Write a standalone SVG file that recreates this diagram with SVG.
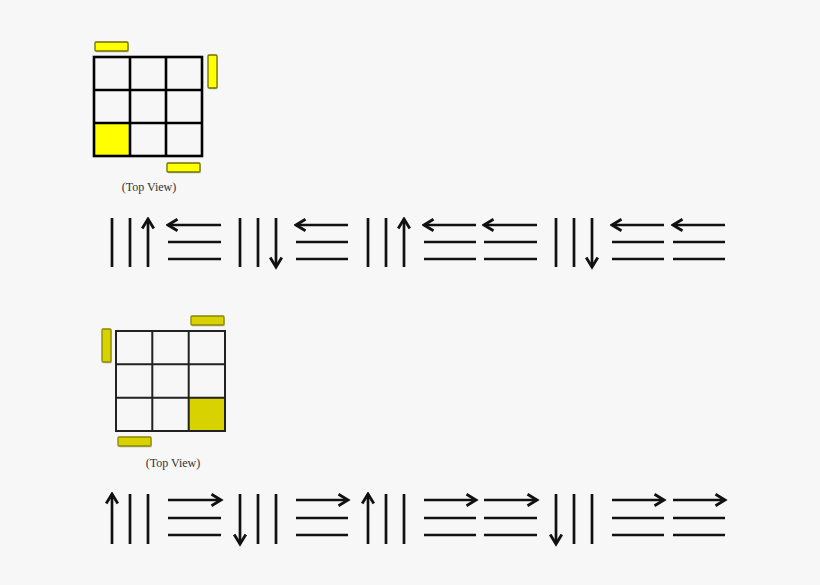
<svg xmlns="http://www.w3.org/2000/svg" width="820" height="585" viewBox="0 0 820 585">
<defs>
<style>
.ln{stroke:#111;stroke-width:2.7;fill:none;stroke-linecap:butt}
.ar{stroke:#111;stroke-width:2.7;fill:none;marker-end:url(#ah)}
.g1{stroke:#000;stroke-width:2.6;fill:none}
.g2{stroke:#222;stroke-width:2;fill:none}
.by{fill:#ffff00;stroke:#6f6f00;stroke-width:1.3}
.bd{fill:#d8d300;stroke:#8a8600;stroke-width:1.3}
.sh{fill:#b8b8b8;opacity:0.6}
.lbl{font-family:"Liberation Serif","DejaVu Serif",serif;font-size:12px;fill:#333;text-anchor:middle}
</style>
<marker id="ah" markerUnits="userSpaceOnUse" viewBox="0 0 14 14" refX="11.5" refY="7" markerWidth="14" markerHeight="14" orient="auto">
<path d="M2,1.2 L11.5,7 L2,12.8" fill="none" stroke="#111" stroke-width="2.8"/>
</marker>
</defs>
<rect width="820" height="585" fill="#f7f7f7"/>

<g id="top-grid">
<rect class="sh" x="96" y="43.5" width="33" height="9" rx="1"/>
<rect class="by" x="95" y="42" width="33" height="9" rx="1"/>
<rect class="sh" x="209" y="56.5" width="9" height="33" rx="1"/>
<rect class="by" x="208" y="55" width="9" height="33" rx="1"/>
<rect class="sh" x="168" y="164.5" width="33" height="9" rx="1"/>
<rect class="by" x="167" y="163" width="33" height="9" rx="1"/>
<rect x="94" y="123" width="36" height="33" fill="#ffff00"/>
<rect class="g1" x="94" y="57" width="108" height="99"/>
<path class="g1" d="M130,57V156M166,57V156M94,90H202M94,123H202"/>
<text class="lbl" x="149" y="191">(Top View)</text>
</g>

<g id="bottom-grid">
<rect class="sh" x="192" y="317.5" width="33" height="9" rx="1"/>
<rect class="bd" x="191" y="316" width="33" height="9" rx="1"/>
<rect class="sh" x="103" y="330.5" width="9" height="33" rx="1"/>
<rect class="bd" x="102" y="329" width="9" height="33" rx="1"/>
<rect class="sh" x="119" y="438.5" width="33" height="9" rx="1"/>
<rect class="bd" x="118" y="437" width="33" height="9" rx="1"/>
<rect x="188.7" y="397.7" width="36.3" height="33.3" fill="#d8d300"/>
<rect class="g2" x="116" y="331" width="109" height="100"/>
<path class="g2" d="M152.3,331V431M188.7,331V431M116,364.3H225M116,397.7H225"/>
<text class="lbl" x="173" y="467">(Top View)</text>
</g>

<g id="top-row">
<line class="ln" x1="112" y1="218" x2="112" y2="267"/>
<line class="ln" x1="130" y1="218" x2="130" y2="267"/>
<line class="ar" x1="148" y1="267" x2="148" y2="219"/>
<line class="ar" x1="221" y1="225" x2="168" y2="225"/>
<line class="ln" x1="168" y1="242" x2="221" y2="242"/>
<line class="ln" x1="168" y1="259" x2="221" y2="259"/>
<line class="ln" x1="240" y1="218" x2="240" y2="267"/>
<line class="ln" x1="258" y1="218" x2="258" y2="267"/>
<line class="ar" x1="276" y1="218" x2="276" y2="267"/>
<line class="ar" x1="348" y1="225" x2="296" y2="225"/>
<line class="ln" x1="296" y1="242" x2="348" y2="242"/>
<line class="ln" x1="296" y1="259" x2="348" y2="259"/>
<line class="ln" x1="368" y1="218" x2="368" y2="267"/>
<line class="ln" x1="386" y1="218" x2="386" y2="267"/>
<line class="ar" x1="404" y1="267" x2="404" y2="219"/>
<line class="ar" x1="476" y1="225" x2="424" y2="225"/>
<line class="ln" x1="424" y1="242" x2="476" y2="242"/>
<line class="ln" x1="424" y1="259" x2="476" y2="259"/>
<line class="ar" x1="537" y1="225" x2="484" y2="225"/>
<line class="ln" x1="484" y1="242" x2="537" y2="242"/>
<line class="ln" x1="484" y1="259" x2="537" y2="259"/>
<line class="ln" x1="556" y1="218" x2="556" y2="267"/>
<line class="ln" x1="574" y1="218" x2="574" y2="267"/>
<line class="ar" x1="592" y1="218" x2="592" y2="267"/>
<line class="ar" x1="664" y1="225" x2="612" y2="225"/>
<line class="ln" x1="612" y1="242" x2="664" y2="242"/>
<line class="ln" x1="612" y1="259" x2="664" y2="259"/>
<line class="ar" x1="725" y1="225" x2="673" y2="225"/>
<line class="ln" x1="673" y1="242" x2="725" y2="242"/>
<line class="ln" x1="673" y1="259" x2="725" y2="259"/>
</g>

<g id="bottom-row">
<line class="ar" x1="112" y1="544" x2="112" y2="494"/>
<line class="ln" x1="130" y1="494" x2="130" y2="544"/>
<line class="ln" x1="148" y1="494" x2="148" y2="544"/>
<line class="ar" x1="168" y1="500" x2="221" y2="500"/>
<line class="ln" x1="168" y1="518" x2="221" y2="518"/>
<line class="ln" x1="168" y1="535" x2="221" y2="535"/>
<line class="ar" x1="240" y1="494" x2="240" y2="544"/>
<line class="ln" x1="258" y1="494" x2="258" y2="544"/>
<line class="ln" x1="276" y1="494" x2="276" y2="544"/>
<line class="ar" x1="296" y1="500" x2="348" y2="500"/>
<line class="ln" x1="296" y1="518" x2="348" y2="518"/>
<line class="ln" x1="296" y1="535" x2="348" y2="535"/>
<line class="ar" x1="368" y1="544" x2="368" y2="494"/>
<line class="ln" x1="386" y1="494" x2="386" y2="544"/>
<line class="ln" x1="404" y1="494" x2="404" y2="544"/>
<line class="ar" x1="424" y1="500" x2="476" y2="500"/>
<line class="ln" x1="424" y1="518" x2="476" y2="518"/>
<line class="ln" x1="424" y1="535" x2="476" y2="535"/>
<line class="ar" x1="484" y1="500" x2="537" y2="500"/>
<line class="ln" x1="484" y1="518" x2="537" y2="518"/>
<line class="ln" x1="484" y1="535" x2="537" y2="535"/>
<line class="ar" x1="556" y1="494" x2="556" y2="544"/>
<line class="ln" x1="574" y1="494" x2="574" y2="544"/>
<line class="ln" x1="592" y1="494" x2="592" y2="544"/>
<line class="ar" x1="612" y1="500" x2="664" y2="500"/>
<line class="ln" x1="612" y1="518" x2="664" y2="518"/>
<line class="ln" x1="612" y1="535" x2="664" y2="535"/>
<line class="ar" x1="673" y1="500" x2="725" y2="500"/>
<line class="ln" x1="673" y1="518" x2="725" y2="518"/>
<line class="ln" x1="673" y1="535" x2="725" y2="535"/>
</g>
</svg>
